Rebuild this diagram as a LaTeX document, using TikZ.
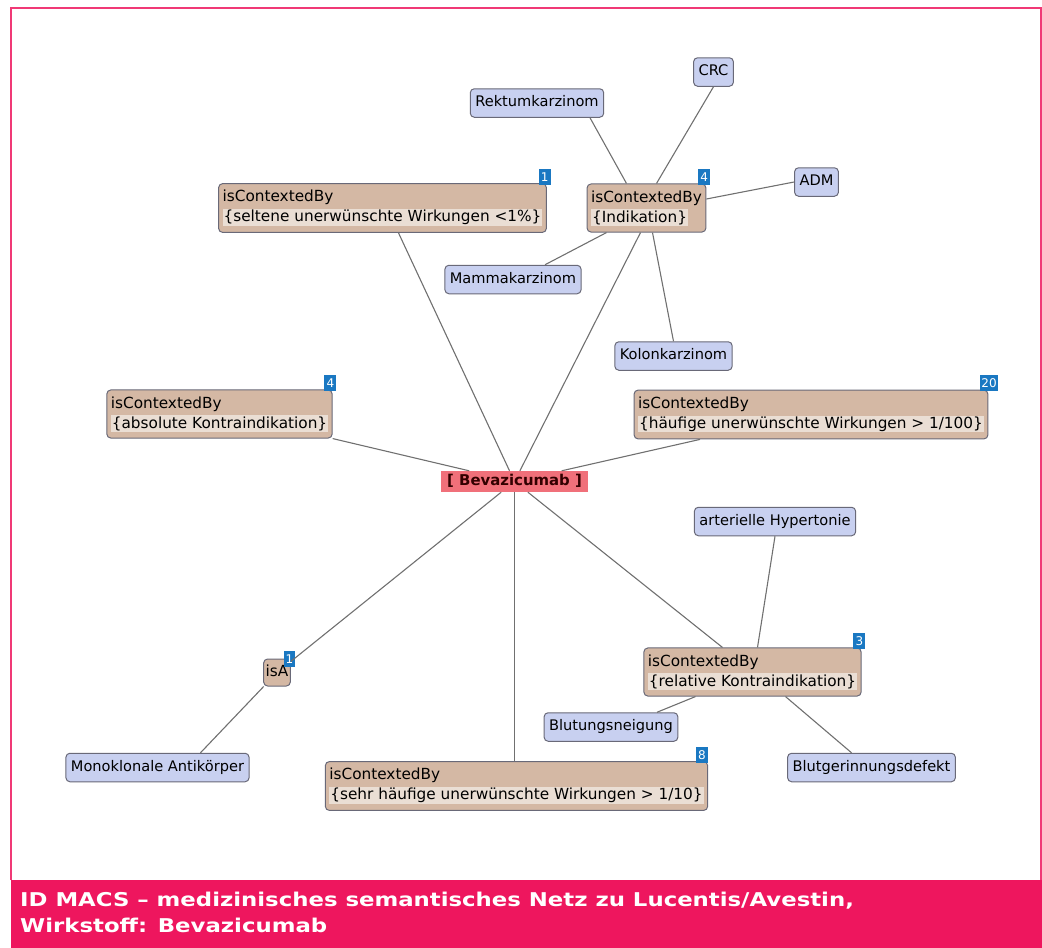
\documentclass[tikz,border=0pt]{standalone}
\usepackage{fontspec}
\newfontfamily\netfont{DejaVu Sans}
\newfontfamily\capfont[FakeStretch=1.2]{DejaVu Sans Bold}
\definecolor{conceptfill}{RGB}{200,208,240}
\definecolor{nodeborder}{RGB}{105,105,120}
\definecolor{ctxfill}{RGB}{212,184,164}
\definecolor{ctxlight}{RGB}{234,222,212}
\definecolor{bevfill}{RGB}{240,112,122}
\definecolor{badgeblue}{RGB}{26,120,194}
\definecolor{capred}{RGB}{238,22,94}
\definecolor{edgegray}{RGB}{112,112,112}
\newcommand{\ctxline}[1]{\setlength{\fboxsep}{1pt}\colorbox{ctxlight}{#1}}
\begin{document}
\begin{tikzpicture}[x=1pt,y=-1pt,
    concept/.style={rectangle,rounded corners=4pt,draw=nodeborder,line width=1pt,fill=conceptfill,font=\netfont\fontsize{14.6}{16}\selectfont,inner xsep=5pt,text height=11pt,text depth=3.5pt,inner ysep=7pt},
    ctx/.style={rectangle,rounded corners=4pt,draw=nodeborder,line width=1pt,fill=ctxfill,font=\netfont\fontsize{15.3}{20}\selectfont,align=left,inner xsep=4pt,inner ysep=6.5pt},
    badge/.style={rectangle,fill=badgeblue,text=white,anchor=south east,font=\netfont\fontsize{12}{12}\selectfont,inner xsep=1.5pt,inner ysep=2pt,minimum width=12pt,minimum height=16pt},
    main node/.style={rectangle,fill=bevfill,text={rgb,255:red,50;green,0;blue,0},font=\netfont\bfseries\fontsize{14.9}{16}\selectfont,inner xsep=6pt,inner ysep=3pt,text height=11pt,text depth=4pt},
    every edge/.style={draw=edgegray,line width=1.1pt}]
    \useasboundingbox (0,0) rectangle (1042,948);
    \draw[capred!85,line width=1.5pt] (11,880) |- (1041,8) -- (1041,880);
    \fill[capred] (11,880) rectangle (1042,948);
    \node[anchor=north west,align=left,text=white,font=\capfont\fontsize{19}{26}\selectfont,inner sep=0pt] at (20,892) (caption)
        {ID MACS – medizinisches semantisches Netz zu Lucentis/Avestin,\\Wirkstoff: Bevazicumab};

    \node[main node] at (514.5, 481.5) (bev) {[ Bevazicumab ]};

    \node[ctx] at (382.5, 208) (sel) {isContextedBy\\\ctxline{\{seltene unerwünschte Wirkungen <1\%\}}};
    \node[ctx] at (646.5, 208) (ind) {isContextedBy\\\ctxline{\{Indikation\}}};
    \node[ctx] at (219.5, 414) (abs) {isContextedBy\\\ctxline{\{absolute Kontraindikation\}}};
    \node[ctx] at (811, 414.5) (hfg) {isContextedBy\\\ctxline{\{häufige unerwünschte Wirkungen > 1/100\}}};
    \node[ctx] at (752.5, 672) (rel) {isContextedBy\\\ctxline{\{relative Kontraindikation\}}};
    \node[ctx] at (516.5, 786) (sehr) {isContextedBy\\\ctxline{\{sehr häufige unerwünschte Wirkungen > 1/10\}}};
    \node[ctx,inner xsep=2pt,text height=11pt,text depth=4pt,inner ysep=6pt] at (277, 672.5) (isa) {isA};

    \node[concept] at (713.5, 72) (crc) {CRC};
    \node[concept] at (537, 103) (rek) {Rektumkarzinom};
    \node[concept] at (816.5, 182) (adm) {ADM};
    \node[concept] at (513, 279.5) (mam) {Mammakarzinom};
    \node[concept] at (673.5, 356) (kol) {Kolonkarzinom};
    \node[concept] at (775, 521.5) (hyp) {arterielle Hypertonie};
    \node[concept] at (611, 727) (blu) {Blutungsneigung};
    \node[concept] at (871.5, 767.5) (bgd) {Blutgerinnungsdefekt};
    \node[concept] at (157.5, 767.5) (mon) {Monoklonale Antikörper};

    % counters
    \node[badge] at ([xshift=4pt,yshift=-2pt]sel.north east) (selN) {1};
    \node[badge] at ([xshift=4pt,yshift=-2pt]ind.north east) (indN) {4};
    \node[badge] at ([xshift=4pt,yshift=-2pt]abs.north east) (absN) {4};
    \node[badge] at ([xshift=10pt,yshift=-2pt]hfg.north east) (hfgN) {20};
    \node[badge] at ([xshift=4pt,yshift=-2pt]rel.north east) (relN) {3};
    \node[badge] at ([xshift=0pt,yshift=-2pt]sehr.north east) (sehrN) {8};
    \node[badge,minimum width=10pt] at ([xshift=4pt,yshift=-9pt]isa.north east) (isaN) {1};

    \path (bev) edge ([xshift=16pt]sel.south)
          (bev) edge ([xshift=-6pt]ind.south)
          (bev) edge (abs.south east)
          (bev) edge ([xshift=-111pt]hfg.south)
          (bev) edge ([xshift=-30pt]rel.north)
          (bev) edge (isa)
          (bev.south) edge (bev.south |- sehr.north);

    \path ([xshift=10pt]ind.north) edge (crc.south)
          ([xshift=-20pt]ind.north) edge ([xshift=53pt]rek.south)
          ([yshift=9pt]ind.east) edge (adm.west)
          ([xshift=-40pt]ind.south) edge ([xshift=32pt]mam.north)
          ([xshift=6pt]ind.south) edge (kol.north);

    \path ([xshift=5pt]rel.north) edge (hyp.south)
          ([xshift=-57pt]rel.south) edge ([xshift=46pt]blu.north)
          ([xshift=33pt]rel.south) edge ([xshift=-20pt]bgd.north)
          (isa) edge ([xshift=43pt]mon.north);
\end{tikzpicture}
\end{document}
